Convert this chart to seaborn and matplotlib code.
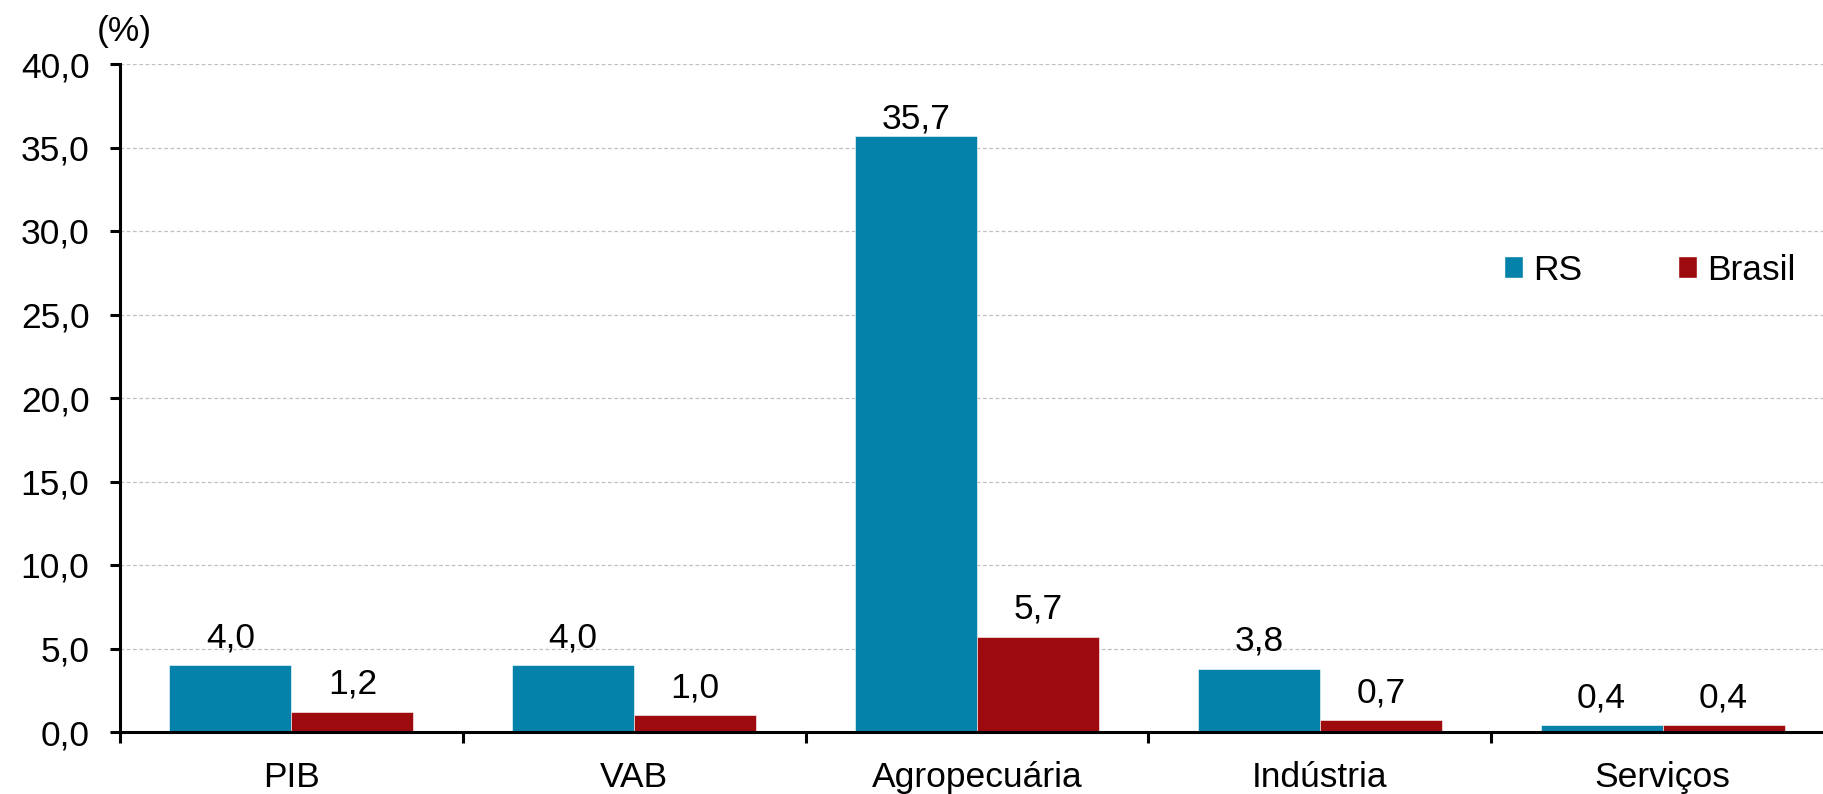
import pandas as pd
import numpy as np
import matplotlib
matplotlib.use('Agg')
import matplotlib.pyplot as plt
import seaborn as sns
from matplotlib.patches import Patch
from matplotlib.ticker import FixedLocator

categories = ['PIB', 'VAB', 'Agropecuária', 'Indústria', 'Serviços']
rs_values = [4.0, 4.0, 35.7, 3.8, 0.4]
brasil_values = [1.2, 1.0, 5.7, 0.7, 0.4]
series = ['RS', 'Brasil']
colors = ['#0582AA', '#9E0B0F']

df = pd.DataFrame({
    'categoria': categories * 2,
    'serie': ['RS'] * len(categories) + ['Brasil'] * len(categories),
    'valor': rs_values + brasil_values,
})

sns.set_style('white')
plt.rcParams['font.family'] = ['Liberation Sans', 'DejaVu Sans']
plt.rcParams['text.color'] = 'black'
plt.rcParams['xtick.color'] = 'black'
plt.rcParams['ytick.color'] = 'black'
FS = 25.5

fig = plt.figure(figsize=(18.24, 7.94), dpi=100)
ax = fig.add_axes([120 / 1824, 62 / 794, 1714 / 1824, 668 / 794])

sns.barplot(data=df, x='categoria', y='valor', hue='serie', order=categories,
            hue_order=series, palette=colors, width=0.712, saturation=1,
            edgecolor='white', linewidth=0.4, legend=False, ax=ax)

# value labels
for cont in ax.containers:
    anns = ax.bar_label(cont, labels=[f'{v:.1f}'.replace('.', ',') for v in cont.datavalues],
                        padding=8, fontsize=FS, color='black')
    # the tall bar has its label tucked closer to the top
    for a, v in zip(anns, cont.datavalues):
        if v > 30:
            a.xyann = (0, 0.5)

ax.set_xlim(-0.5, len(categories) - 0.5)
ax.set_ylim(0, 40)
ax.set_yticks(np.arange(0, 41, 5))
ax.set_yticklabels([f'{v:.1f}'.replace('.', ',') for v in np.arange(0, 41, 5)], fontsize=FS)
ax.yaxis.grid(True, color='#c0c0c0', linestyle=(0, (3, 2)), linewidth=0.9)
ax.set_axisbelow(True)

# boundary ticks between categories, labels centred
ax.xaxis.set_major_locator(FixedLocator(np.arange(-0.5, len(categories), 1.0)))
ax.xaxis.set_minor_locator(FixedLocator(np.arange(len(categories))))
ax.set_xticklabels([''] * (len(categories) + 1))
ax.set_xticklabels(categories, minor=True, fontsize=FS)
ax.tick_params(axis='x', which='major', bottom=True, direction='out', length=8,
               width=2.2, color='black')
ax.tick_params(axis='x', which='minor', bottom=True, length=0, pad=21, labelcolor='black')
ax.tick_params(axis='y', left=True, direction='out', length=7, width=2.2,
               color='black', pad=15, labelcolor='black')

ax.set_xlabel('')
ax.set_ylabel('')
for s in ['top', 'right']:
    ax.spines[s].set_visible(False)
for s in ['left', 'bottom']:
    ax.spines[s].set_color('black')
    ax.spines[s].set_linewidth(2.2)

fig.text(97 / 1824, 1 - 31 / 794, '(%)', fontsize=FS, va='center', ha='left')

handles = [Patch(facecolor=c, label=s) for c, s in zip(colors, series)]
ax.legend(handles=handles, ncol=2, frameon=False, fontsize=FS, labelcolor='black',
          loc='center left', bbox_to_anchor=(1504 / 1824, 1 - 270 / 794),
          bbox_transform=fig.transFigure, handlelength=0.54, handleheight=0.54,
          handletextpad=0.28, columnspacing=2.7, borderaxespad=0, borderpad=0)

fig.savefig('out.png', dpi=100)
